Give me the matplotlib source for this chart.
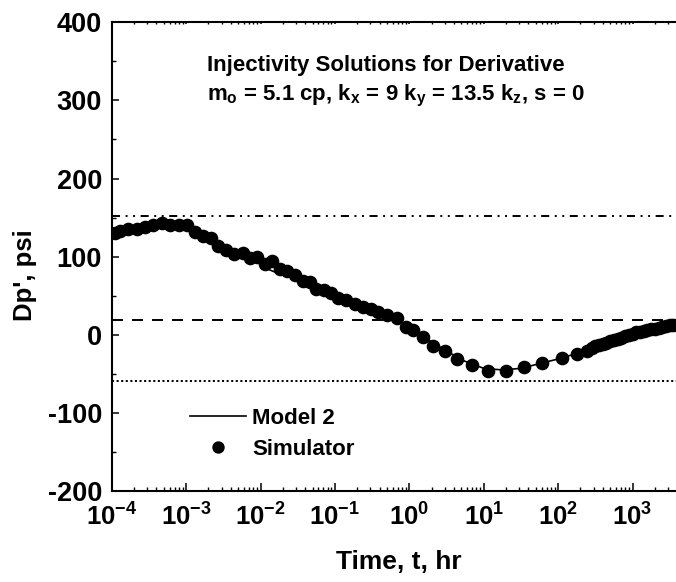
import numpy as np
import matplotlib
matplotlib.use('Agg')
import matplotlib.pyplot as plt
from matplotlib.ticker import LogLocator, MultipleLocator, NullFormatter, FuncFormatter

plt.rcParams['font.family'] = ['Liberation Sans', 'DejaVu Sans']
plt.rcParams['font.weight'] = 'bold'
plt.rcParams['mathtext.fontset'] = 'custom'
plt.rcParams['mathtext.rm'] = 'Liberation Sans:bold'
plt.rcParams['mathtext.bf'] = 'Liberation Sans:bold'
plt.rcParams['mathtext.it'] = 'Liberation Sans:bold'
plt.rcParams['lines.scale_dashes'] = False
plt.rcParams['axes.unicode_minus'] = False

# ---- data (time as log10 of hours) ----
sim_log_t = [-3.96, -3.89, -3.78, -3.66, -3.55, -3.44, -3.33, -3.22, -3.10, -2.99,
             -2.88, -2.77, -2.67, -2.57, -2.46, -2.35, -2.24, -2.14, -2.05, -1.94,
             -1.84, -1.74, -1.64, -1.54, -1.43, -1.34, -1.25, -1.15, -1.05, -0.96,
             -0.85, -0.73, -0.62, -0.52, -0.42, -0.30, -0.17, -0.04, 0.05, 0.19,
             0.32, 0.48, 0.64, 0.84, 1.06, 1.30, 1.54, 1.79, 2.05, 2.26,
             2.39, 2.45, 2.50, 2.55, 2.60, 2.65, 2.70, 2.75, 2.80, 2.85,
             2.90, 2.95, 3.00, 3.05, 3.10, 3.15, 3.20, 3.25, 3.30, 3.35,
             3.40, 3.45, 3.50, 3.55, 3.60]
sim_dp = [130, 133, 136, 135, 138, 140, 142.5, 141, 140, 141,
          131, 126, 124.5, 114, 109, 104, 105, 98, 100, 91,
          94, 84, 81, 76, 69, 68, 59, 57, 53, 46.5,
          45, 40, 36, 33, 29.4, 25.2, 21, 10, 6, -3.4,
          -14.5, -21, -31.5, -39, -46, -47, -41, -36, -30, -24,
          -21, -17, -15, -13.5, -12, -10, -8.5, -7, -5, -3.5,
          -2, 0, 1.5, 3, 4, 5, 6, 7, 8, 9,
          10, 11, 12, 12.5, 13]

model_log_t = [-4.0, -3.75, -3.5, -3.25, -3.0, -2.75, -2.5, -2.25, -2.0, -1.9,
               -1.75, -1.5, -1.25, -1.0, -0.75, -0.5, -0.25, 0.0, 0.25, 0.5,
               0.75, 1.0, 1.25, 1.5, 1.75, 2.0, 2.25, 2.5, 2.75, 3.0,
               3.25, 3.6]
model_dp = [127, 135, 140, 142, 139, 128, 112, 101, 91, 84,
            78, 72, 60, 49, 40, 31, 23, 11, -6, -21,
            -34, -43, -45, -43, -37, -31, -24, -16, -7, 1,
            7, 12]

ref_levels = [152, 19, -59]
ref_styles = [(0, (5.8, 4.0, 1.4, 4.0, 1.4, 4.0)), (0, (7.9, 6.5)), (0, (1.5, 1.8))]

title_lines = ["Injectivity Solutions for Derivative",
               r"m$_{\mathbf{o}}$ = 5.1 cp, k$_{\mathbf{x}}$ = 9 k$_{\mathbf{y}}$ = 13.5 k$_{\mathbf{z}}$, s = 0"]

# ---- figure ----
W, H = 676, 582
fig = plt.figure(figsize=(W / 100, H / 100), dpi=100)
ax_left, ax_right, ax_top, ax_bot = 111.7, 676.0, 22.3, 491.0
ax = fig.add_axes([ax_left / W, 1 - ax_bot / H, (ax_right - ax_left) / W, (ax_bot - ax_top) / H])

sim_t = 10 ** np.array(sim_log_t)
model_t = 10 ** np.array(model_log_t)

for lvl, ls in zip(ref_levels, ref_styles):
    ax.axhline(lvl, color='black', lw=1.4, linestyle=ls, zorder=1)

ax.plot(model_t, model_dp, color='black', lw=1.2, label='Model 2', zorder=2)
ax.plot(sim_t, sim_dp, linestyle='none', marker='o', ms=8.8, color='black',
        label='Simulator', zorder=3)

ax.set_xscale('log')
ax.set_xlim(1e-4, 10 ** (-4 + (ax_right - ax_left) / 74.4))
ax.set_ylim(-200, 400)

ax.xaxis.set_major_locator(LogLocator(base=10, numticks=20))
ax.xaxis.set_minor_locator(LogLocator(base=10, subs=np.arange(2, 10), numticks=100))
ax.xaxis.set_minor_formatter(NullFormatter())
ax.xaxis.set_major_formatter(FuncFormatter(lambda v, p: r'$\mathbf{10^{%d}}$' % int(round(np.log10(v)))))
ax.yaxis.set_major_locator(MultipleLocator(100))
ax.yaxis.set_minor_locator(MultipleLocator(50))

ax.tick_params(axis='x', which='major', direction='in', length=6, width=1.1,
               labelsize=18.5, pad=9, top=True)
ax.tick_params(axis='x', which='minor', direction='in', length=3.2, width=1.0, top=True)
ax.tick_params(axis='y', which='major', direction='in', length=5, width=1.1,
               labelsize=19.5, pad=7)
ax.tick_params(axis='y', which='minor', direction='in', length=3, width=1.0)
for t in ax.xaxis.get_ticklines(minor=False)[1::2] + ax.xaxis.get_ticklines(minor=True)[1::2]:
    t.set_markersize(1.5)
    t.set_color('#888888')

for s in ['left', 'bottom', 'top']:
    ax.spines[s].set_linewidth(1.5)
ax.spines['right'].set_visible(False)

ax.set_xlabel('Time, t, hr', fontsize=19, fontweight='bold')
ax.xaxis.set_label_coords((399 - ax_left) / (ax_right - ax_left), (ax_bot - 550) / (ax_bot - ax_top))
ax.set_ylabel("Dp', psi", fontsize=18.5, fontweight='bold')
ax.yaxis.set_label_coords((37 - ax_left) / (ax_right - ax_left), (ax_bot - 275) / (ax_bot - ax_top))

ax.text((207 - ax_left) / (ax_right - ax_left), (ax_bot - 65) / (ax_bot - ax_top), title_lines[0],
        transform=ax.transAxes, ha='left', va='center', fontsize=16, fontweight='bold')
ax.text((207 - ax_left) / (ax_right - ax_left), (ax_bot - 96) / (ax_bot - ax_top), title_lines[1],
        transform=ax.transAxes, ha='left', va='center', fontsize=16, fontweight='bold')

leg = ax.legend(loc='upper left',
                bbox_to_anchor=((190 - ax_left) / (ax_right - ax_left), (ax_bot - 408) / (ax_bot - ax_top)),
                frameon=False, fontsize=16, handlelength=2.5, handletextpad=0.3,
                labelspacing=0.45, borderpad=0, borderaxespad=0, markerscale=0.9)

fig.savefig('out.png', dpi=100)
